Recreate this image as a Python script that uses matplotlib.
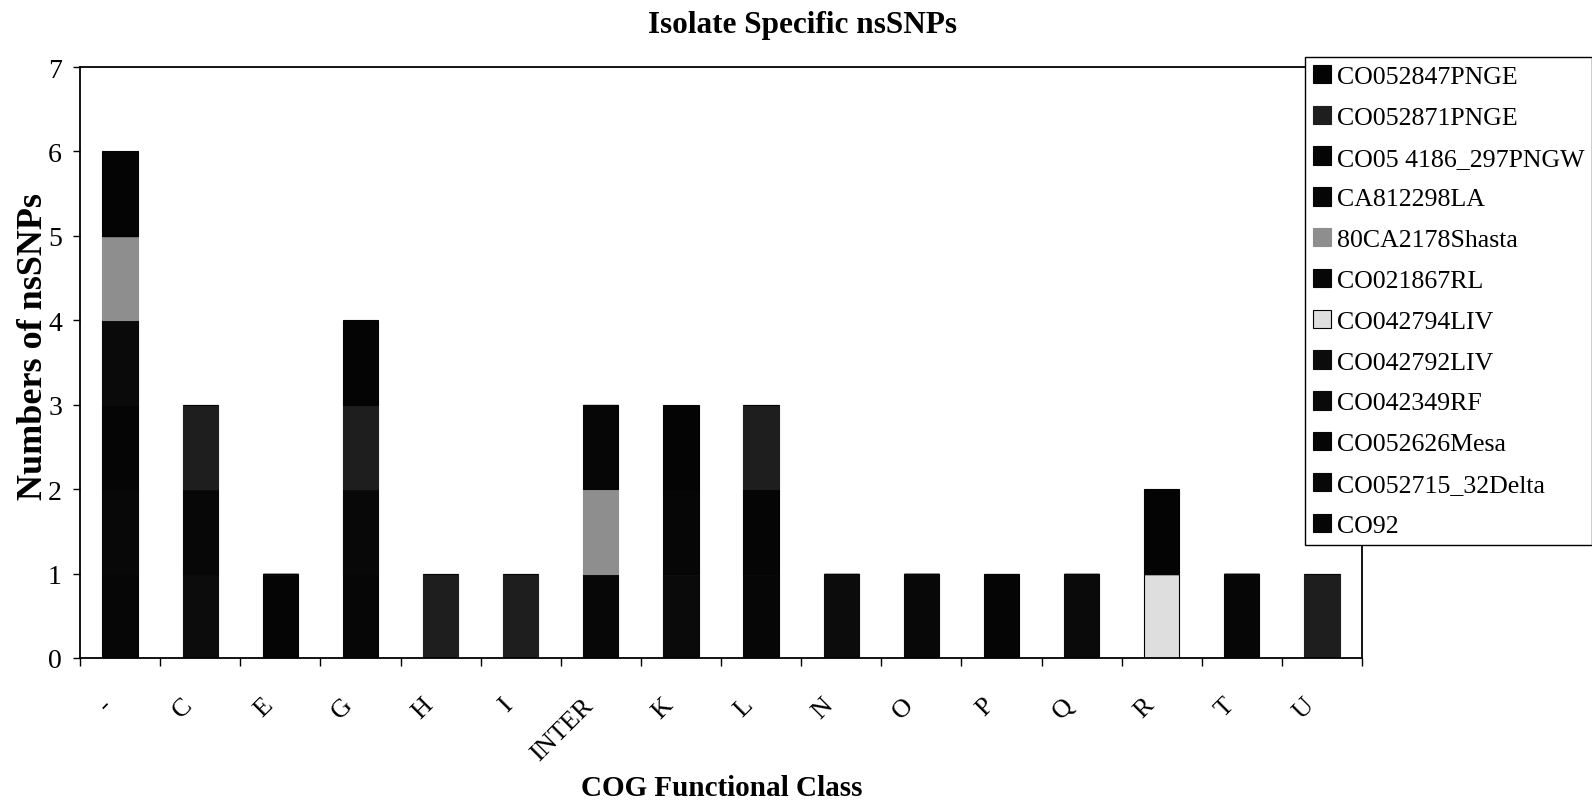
import matplotlib
matplotlib.use("Agg")
import matplotlib.pyplot as plt
import matplotlib.transforms as mtransforms
import numpy as np

plt.rcParams['font.family'] = ['Liberation Serif', 'DejaVu Serif']

categories = ['-', 'C', 'E', 'G', 'H', 'I', 'INTER', 'K', 'L', 'N', 'O', 'P', 'Q', 'R', 'T', 'U']

# series in stacking order (bottom first); legend shows them reversed
series_names = ['CO92', 'CO052715_32Delta', 'CO052626Mesa', 'CO042349RF', 'CO042792LIV',
                'CO042794LIV', 'CO021867RL', '80CA2178Shasta', 'CA812298LA',
                'CO05 4186_297PNGW', 'CO052871PNGE', 'CO052847PNGE']

#                     -  C  E  G  H  I INT K  L  N  O  P  Q  R  T  U
CO92              = [1, 0, 0, 1, 0, 0, 0, 0, 1, 0, 0, 0, 0, 0, 1, 0]
CO052715_32Delta  = [1, 0, 0, 1, 0, 0, 0, 0, 0, 0, 1, 0, 0, 0, 0, 0]
CO052626Mesa      = [1, 0, 1, 0, 0, 0, 0, 0, 0, 0, 0, 0, 0, 0, 0, 0]
CO042349RF        = [1, 0, 0, 0, 0, 0, 0, 1, 0, 0, 0, 0, 1, 0, 0, 0]
CO042792LIV       = [0, 1, 0, 0, 0, 0, 0, 0, 0, 1, 0, 0, 0, 0, 0, 0]
CO042794LIV       = [0, 0, 0, 0, 0, 0, 0, 0, 0, 0, 0, 0, 0, 1, 0, 0]
CO021867RL        = [0, 1, 0, 0, 0, 0, 1, 0, 0, 0, 0, 0, 0, 0, 0, 0]
Shasta80CA2178    = [1, 0, 0, 0, 0, 0, 1, 0, 0, 0, 0, 0, 0, 0, 0, 0]
CA812298LA        = [0, 0, 0, 0, 0, 0, 1, 1, 0, 0, 0, 0, 0, 0, 0, 0]
CO054186_297PNGW  = [0, 0, 0, 0, 0, 0, 0, 0, 1, 0, 0, 1, 0, 0, 0, 0]
CO052871PNGE      = [0, 1, 0, 1, 1, 1, 0, 0, 1, 0, 0, 0, 0, 0, 0, 1]
CO052847PNGE      = [1, 0, 0, 1, 0, 0, 0, 1, 0, 0, 0, 0, 0, 1, 0, 0]

series_values = [CO92, CO052715_32Delta, CO052626Mesa, CO042349RF, CO042792LIV,
                 CO042794LIV, CO021867RL, Shasta80CA2178, CA812298LA,
                 CO054186_297PNGW, CO052871PNGE, CO052847PNGE]

colors = ['#060606', '#080808', '#050505', '#0a0a0a', '#0c0c0c',
          '#dedede', '#070707', '#8e8e8e', '#060606',
          '#050505', '#1e1e1e', '#040404']

W, H = 1592, 804
fig = plt.figure(figsize=(W / 100, H / 100), dpi=100)
ax = fig.add_axes([80 / W, 1 - 659 / H, (1362 - 80) / W, (659 - 68) / H])

x = np.arange(len(categories))
bottom = np.zeros(len(categories))
handles = []
for name, vals, col in zip(series_names, series_values, colors):
    vals = np.array(vals, dtype=float)
    b = ax.bar(x, vals, width=0.44, bottom=bottom, color=col,
               edgecolor=col if col != '#dedede' else 'black', linewidth=0.8, label=name)
    handles.append(b)
    bottom += vals

ax.set_xlim(-0.5, len(categories) - 0.5)
ax.set_ylim(0, 7)
ax.set_yticks(range(0, 8))
ax.tick_params(axis='y', labelsize=20, length=5, width=1, direction='out', pad=8)
ax.set_xticks(x)
ax.set_xticklabels(categories, rotation=45, ha='right', va='top',
                   rotation_mode='anchor', fontsize=19)
ax.tick_params(axis='x', which='major', length=0, pad=12)
shift = mtransforms.ScaledTranslation(-0.19, -0.19, fig.dpi_scale_trans)
for lbl in ax.get_xticklabels():
    lbl.set_transform(lbl.get_transform() + shift)
ax.set_xticks(np.arange(-0.5, len(categories), 1.0), minor=True)
ax.tick_params(axis='x', which='minor', length=6, width=1, direction='out')
for s in ax.spines.values():
    s.set_linewidth(1.3)
    s.set_color('black')

fig.text(34 / W, 1 - 347 / H, 'Numbers of nsSNPs', fontsize=26, fontweight='bold',
         ha='center', va='center', rotation=90)
fig.text(722 / W, 1 - 789 / H, 'COG Functional Class', fontsize=21, fontweight='bold',
         ha='center', va='center')
fig.text(802 / W, 1 - 25 / H, 'Isolate Specific nsSNPs', fontsize=22.5, fontweight='bold',
         ha='center', va='center')

leg = fig.legend(handles[::-1], series_names[::-1], loc='upper left',
                 bbox_to_anchor=(1305 / W, 1 - 58 / H), fontsize=18.6,
                 frameon=True, fancybox=False, shadow=False, framealpha=1,
                 edgecolor='black', handlelength=0.72, handleheight=0.72,
                 handletextpad=0.2, labelspacing=0.68, borderpad=0.3,
                 borderaxespad=0)
leg.get_frame().set_linewidth(1.0)
leg.set_zorder(10)

fig.savefig('out.png', dpi=100)
